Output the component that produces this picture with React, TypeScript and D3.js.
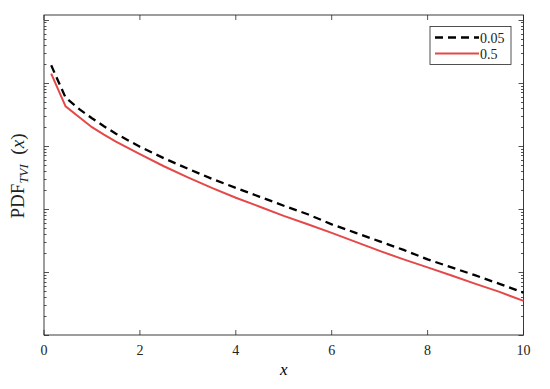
import React, { useEffect, useRef } from 'react';
import * as d3 from 'd3';

// x grid of the two curves
const xValues = [0.15, 0.45, 0.75, 1, 1.25, 1.5, 2, 2.5, 3, 3.5, 4, 4.5, 5, 5.5, 6, 6.5, 7, 7.5, 8, 8.5, 9, 9.5, 10];

// PDF for parameter 0.05 (dashed black)
const pdf005 = [0.188, 0.0578, 0.0373, 0.0273, 0.0204, 0.01551, 0.00964, 0.00634, 0.00432, 0.00299, 0.00215, 0.00155,
    0.00112, 0.000819, 0.000568, 0.000416, 0.000305, 0.000223, 0.000158, 0.000118, 0.0000879, 0.0000646, 0.0000469];

// PDF for parameter 0.5 (solid red)
const pdf05 = [0.139, 0.0421, 0.0278, 0.01966, 0.01496, 0.01157, 0.00733, 0.00473, 0.00316, 0.00215, 0.0015, 0.00108,
    0.000774, 0.000568, 0.000416, 0.000299, 0.000215, 0.000158, 0.000118, 0.0000879, 0.0000646, 0.0000482, 0.0000347];

const seriesNames = ['0.05', '0.5'];
const xTicks = [0, 2, 4, 6, 8, 10];

const App = () => {
    const ref = useRef<SVGSVGElement>(null);

    const graph = () => {
        const svg = d3.select(ref.current);
        svg.selectAll('*').remove();

        const left = 44, right = 523.5, top = 15, bottom = 335;
        const font = 'Liberation Serif';

        const x = d3.scaleLinear().domain([0, 10]).range([left, right]);
        const y = d3.scaleLog().domain([1e-5, 1.18]).range([bottom, top]);

        const axisColor = '#262626';
        const g = svg.append('g').attr('font-family', font);

        // y ticks: decades and minors, inside on both sides
        const yTicks: { v: number; major: boolean }[] = [];
        for (let e = -5; e <= 0; e++) {
            for (let m = 1; m <= 9; m++) {
                const v = m * Math.pow(10, e);
                if (v >= 1e-5 && v <= 1.18) yTicks.push({ v, major: m === 1 });
            }
        }
        yTicks.forEach((t) => {
            const len = t.major ? 5 : 2.5;
            const yy = Math.round(y(t.v)) + 0.5;
            g.append('line').attr('x1', left).attr('x2', left + len).attr('y1', yy).attr('y2', yy)
                .attr('stroke', axisColor).attr('stroke-width', 0.8);
            g.append('line').attr('x1', right).attr('x2', right - len).attr('y1', yy).attr('y2', yy)
                .attr('stroke', axisColor).attr('stroke-width', 0.8);
        });

        // x ticks, inside on bottom and top
        xTicks.forEach((t) => {
            const xx = x(t);
            g.append('line').attr('x1', xx).attr('x2', xx).attr('y1', bottom).attr('y2', bottom - 5)
                .attr('stroke', axisColor).attr('stroke-width', 0.8);
            g.append('line').attr('x1', xx).attr('x2', xx).attr('y1', top).attr('y2', top + 5)
                .attr('stroke', axisColor).attr('stroke-width', 0.8);
            g.append('text').attr('x', xx).attr('y', bottom + 20)
                .attr('text-anchor', 'middle')
                .attr('font-size', 14).attr('fill', '#222')
                .text(t);
        });

        // box
        g.append('rect').attr('x', left).attr('y', top).attr('width', right - left).attr('height', bottom - top)
            .attr('fill', 'none').attr('stroke', axisColor).attr('stroke-width', 0.9);

        const line = d3.line<number>()
            .x((d, i) => x(xValues[i]))
            .y((d) => y(d));

        g.append('path').datum(pdf05).attr('d', line)
            .attr('fill', 'none').attr('stroke', '#e44848').attr('stroke-width', 2);
        g.append('path').datum(pdf005).attr('d', line)
            .attr('fill', 'none').attr('stroke', '#000').attr('stroke-width', 2.3)
            .attr('stroke-dasharray', '8,5');

        // axis labels
        g.append('text').attr('x', (left + right) / 2).attr('y', 375)
            .attr('text-anchor', 'middle')
            .attr('font-size', 17).attr('font-style', 'italic')
            .text('x');

        const yl = g.append('text')
            .attr('transform', 'translate(24,176) rotate(-90)')
            .attr('text-anchor', 'middle')
            .attr('font-size', 19).attr('fill', '#222');
        yl.append('tspan').text('PDF');
        yl.append('tspan').attr('dy', 4).attr('font-size', 13).attr('font-style', 'italic').text('TVI');
        yl.append('tspan').attr('dy', -4).text('\u2002(');
        yl.append('tspan').attr('font-style', 'italic').text('x');
        yl.append('tspan').text(')');

        // legend
        const lg = g.append('g');
        lg.append('rect').attr('x', 430).attr('y', 26.5).attr('width', 81).attr('height', 38)
            .attr('fill', '#fff').attr('stroke', axisColor).attr('stroke-width', 0.8);
        const styles = [
            { color: '#000', dash: '8,5', width: 2.3 },
            { color: '#e44848', dash: null, width: 2 },
        ];
        seriesNames.forEach((name, i) => {
            const yy = 37.5 + i * 16;
            const l = lg.append('line').attr('x1', 435).attr('x2', 479).attr('y1', yy).attr('y2', yy)
                .attr('stroke', styles[i].color).attr('stroke-width', styles[i].width);
            if (styles[i].dash) l.attr('stroke-dasharray', styles[i].dash);
            lg.append('text').attr('x', 480).attr('y', yy + 5)
                .attr('font-size', 14).attr('fill', '#222')
                .text(name);
        });
    };

    useEffect(() => graph());

    return (
        <svg ref={ref} width="550" height="389"
            style={{ position: 'absolute', left: 0, top: 0, background: '#fff' }}></svg>
    );
};

export default App;
